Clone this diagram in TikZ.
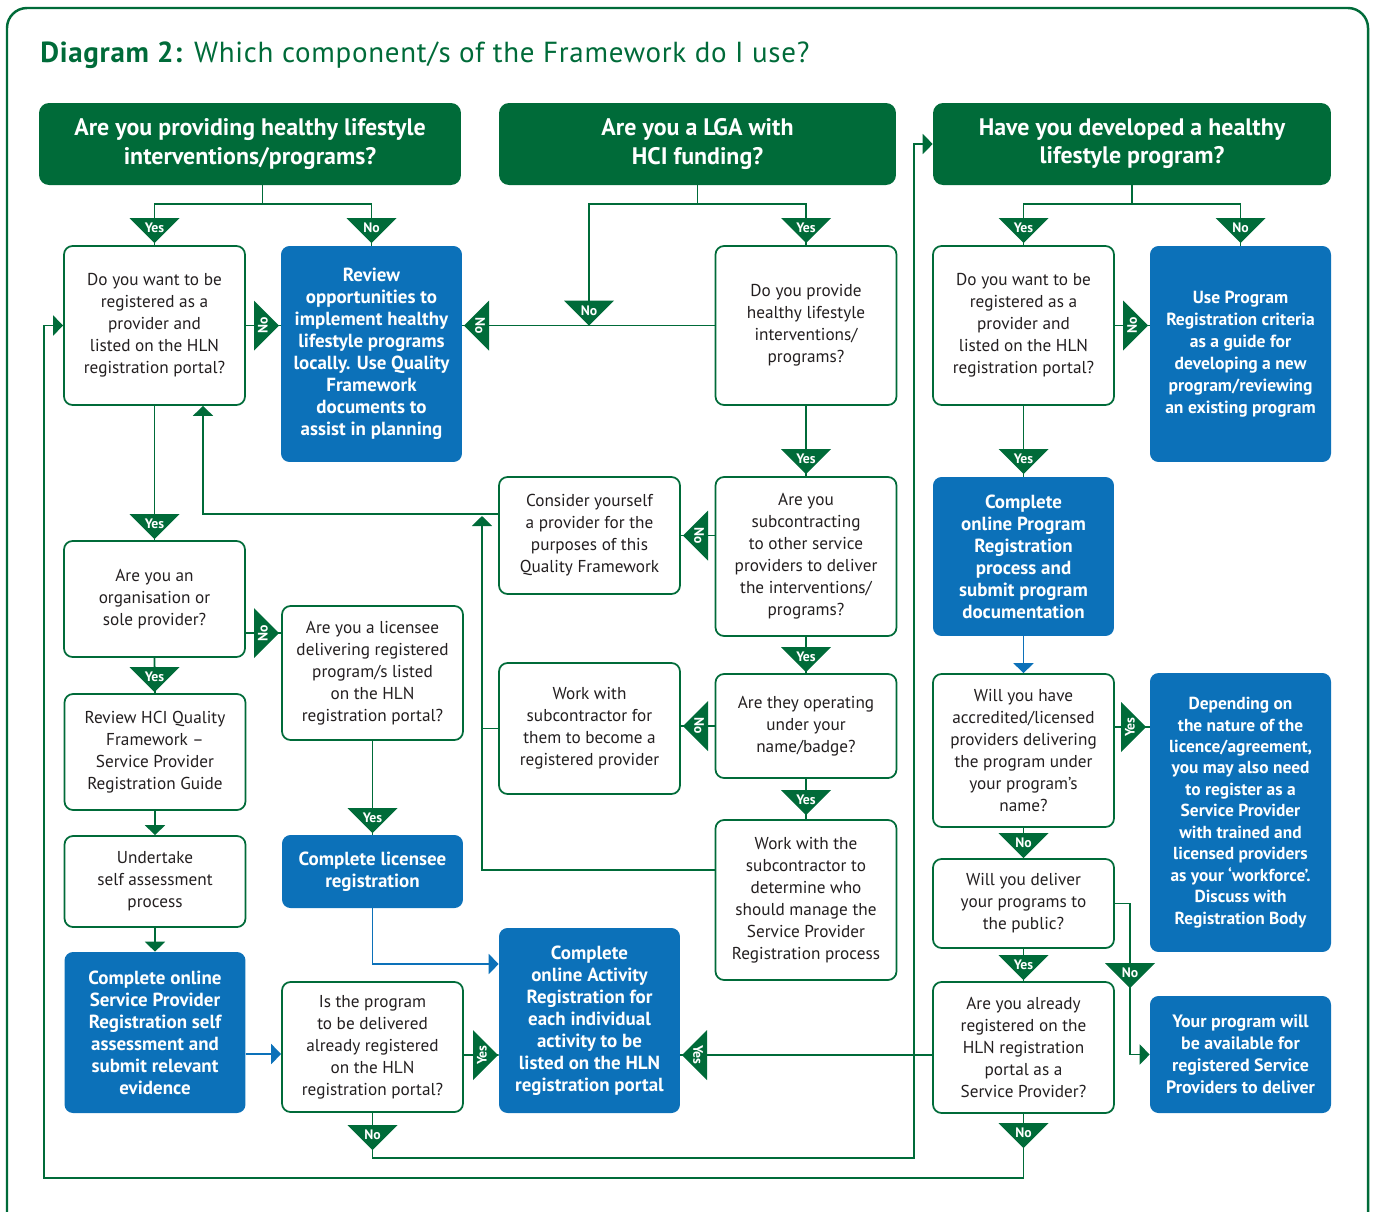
\documentclass[tikz,border=0pt]{standalone}
\usepackage{fontspec}
\setmainfont{PT Sans}
\usetikzlibrary{arrows.meta,calc}
\definecolor{hlngreen}{RGB}{0,107,57}
\definecolor{hlnblue}{RGB}{12,113,185}
\definecolor{hlntext}{RGB}{35,31,32}

% yes/no flags on the connectors
\newcommand{\ynDown}[4]{%
  \fill[hlngreen] (#2-25,#3-25) -- (#2+25,#3-25) -- (#2,#3) -- cycle;
  \node[yntext] at (#2,#3-15) (#1){#4};}
\newcommand{\ynRight}[4]{%
  \fill[hlngreen] (#2-25,#3-25) -- (#2-25,#3+25) -- (#2,#3) -- cycle;
  \node[yntext, rotate=90] at (#2-16,#3) (#1){#4};}
\newcommand{\ynLeft}[4]{%
  \fill[hlngreen] (#2+25,#3-25) -- (#2+25,#3+25) -- (#2,#3) -- cycle;
  \node[yntext, rotate=-90] at (#2+16,#3) (#1){#4};}

\begin{document}
\begin{tikzpicture}[x=0.02cm, y=-0.02cm]
\tikzstyle{head} = [rectangle, rounded corners=0.2cm, fill=hlngreen, text=white, align=center, inner sep=0, minimum height=1.64cm, font=\bfseries\fontsize{13.6}{16}\selectfont]
\tikzstyle{ques} = [rectangle, rounded corners=0.17cm, draw=hlngreen, line width=1pt, fill=white, text=hlntext, align=center, inner sep=0, minimum width=3.62cm, font=\fontsize{9.8}{12.5}\selectfont]
\tikzstyle{todo} = [rectangle, rounded corners=0.17cm, fill=hlnblue, text=white, align=center, inner sep=0, minimum width=3.62cm, font=\bfseries\fontsize{10.8}{12.5}\selectfont]
\tikzstyle{narrow} = [font=\bfseries\fontsize{10}{12.5}\selectfont]
\tikzstyle{yntext} = [text=white, inner sep=0, font=\bfseries\fontsize{7.8}{8}\selectfont]
\tikzstyle{link} = [draw=hlngreen, line width=1pt]
\tikzstyle{linkto} = [link, -{Triangle[width=0.4cm,length=0.2cm]}]
\tikzstyle{bluelink} = [draw=hlnblue, line width=1pt, -{Triangle[width=0.4cm,length=0.2cm]}]

\useasboundingbox (0,0) rectangle (1375,1211);
\draw[hlngreen, line width=1.4pt, rounded corners=0.4cm] (7,8) rectangle (1368,1250);
\node[anchor=base west, text=hlngreen, inner sep=0, font=\fontsize{16.5}{18}\selectfont\addfontfeature{LetterSpace=2.5}] at (40,62) (title){\textbf{Diagram 2:} Which component/s of the Framework do I use?};

% headers
\node[head, minimum width=8.44cm] at (250,144) (h1){Are you providing healthy lifestyle\\interventions/programs?};
\node[head, minimum width=7.94cm] at (697.5,144) (h2){Are you a LGA with\\HCI funding?};
\node[head, minimum width=7.96cm] at (1132,144) (h3){Have you developed a healthy\\lifestyle program?};

% left part
\node[ques, minimum height=3.18cm] at (154.5,325.5) (want1){Do you want to be\\registered as a\\provider and\\listed on the HLN\\registration portal?};
\node[todo, minimum height=4.32cm] at (371.5,354) (rev){Review\\opportunities to\\implement healthy\\lifestyle programs\\locally. Use Quality\\Framework\\documents to\\assist in planning};
\node[ques, minimum height=2.32cm] at (154.5,599) (org){Are you an\\organisation or\\sole provider?};
\node[ques, minimum height=2.68cm] at (372.5,673) (lic){Are you a licensee\\delivering registered\\program/s listed\\on the HLN\\registration portal?};
\node[ques, minimum height=2.32cm] at (155,752) (guide){Review HCI Quality\\Framework –\\Service Provider\\Registration Guide};
\node[ques, minimum height=1.82cm] at (155,881.5) (self){Undertake\\self assessment\\process};
\node[todo, minimum height=3.22cm] at (155,1032.5) (spreg){Complete online\\Service Provider\\Registration self\\assessment and\\submit relevant\\evidence};
\node[todo, minimum height=1.46cm] at (372.5,871.5) (licreg){Complete licensee\\registration};
\node[ques, minimum height=2.6cm] at (372.5,1047) (isprog){Is the program\\to be delivered\\already registered\\on the HLN\\registration portal?};
\node[todo, minimum height=3.7cm] at (589.5,1020.5) (act){Complete\\online Activity\\Registration for\\each individual\\activity to be\\listed on the HLN\\registration portal};

% middle part
\node[ques, minimum height=3.18cm] at (806,325.5) (prov){Do you provide\\healthy lifestyle\\interventions/\\programs?};
\node[ques, minimum height=2.34cm] at (589.5,535.5) (cons){Consider yourself\\a provider for the\\purposes of this\\Quality Framework};
\node[ques, minimum height=3.18cm] at (806,556.5) (sub){Are you\\subcontracting\\to other service\\providers to deliver\\the interventions/\\programs?};
\node[ques, minimum height=2.08cm] at (806,726) (oper){Are they operating\\under your\\name/badge?};
\node[ques, minimum height=2.62cm] at (589.5,728.5) (workreg){Work with\\subcontractor for\\them to become a\\registered provider};
\node[ques, minimum height=3.2cm] at (806,900) (worksub){Work with the\\subcontractor to\\determine who\\should manage the\\Service Provider\\Registration process};

% right part
\node[ques, minimum height=3.18cm] at (1023.5,325.5) (want2){Do you want to be\\registered as a\\provider and\\listed on the HLN\\registration portal?};
\node[todo, narrow, minimum height=4.32cm] at (1240.5,354) (useprog){Use Program\\Registration criteria\\as a guide for\\developing a new\\program/reviewing\\an existing program};
\node[todo, minimum height=3.18cm] at (1023.5,556.5) (progreg){Complete\\online Program\\Registration\\process and\\submit program\\documentation};
\node[ques, minimum height=3.06cm] at (1023.5,750.5) (accr){Will you have\\accredited/licensed\\providers delivering\\the program under\\your program’s\\name?};
\node[todo, narrow, minimum height=5.58cm, font=\bfseries\fontsize{9.9}{12.2}\selectfont] at (1240.5,812.5) (depend){Depending on\\the nature of the\\licence/agreement,\\you may also need\\to register as a\\Service Provider\\with trained and\\licensed providers\\as your ‘workforce’.\\Discuss with\\Registration Body};
\node[ques, minimum height=1.78cm] at (1023.5,903.5) (public){Will you deliver\\your programs to\\the public?};
\node[ques, minimum height=2.62cm] at (1023.5,1047.5) (already){Are you already\\registered on the\\HLN registration\\portal as a\\Service Provider?};
\node[todo, narrow, minimum height=2.34cm, font=\bfseries\fontsize{10.2}{12.5}\selectfont] at (1240.5,1054.5) (avail){Your program will\\be available for\\registered Service\\Providers to deliver};

\coordinate (nojoin) at (589,325.5);
\coordinate (join) at (482,516);
\coordinate (rise) at (914,1158);
\coordinate (loop) at (44,1178);

% connectors
\draw[link] (h1.south) ++(12.5,0) -- ++(0,19) -| (want1.north);
\draw[link] (h1.south) ++(12.5,0) -- ++(0,19) -| (rev.north);
\draw[link] (want1.east) -- (want1.east -| rev.west);
\draw[link] (prov.west) -- (prov.west -| rev.east);
\draw[link] (h2.south) -- ++(0,19) -| (prov.north);
\draw[link] (h2.south) -- ++(0,19) -| (nojoin);
\draw[link] (h3.south) -- ++(0,19) -| (want2.north);
\draw[link] (h3.south) -- ++(0,19) -| (useprog.north);
\draw[link] (want2.east) -- (want2.east -| useprog.west);
\draw[link] (want2.south) -- (progreg.north);
\draw[bluelink] (progreg.south) -- (accr.north);
\draw[link] ($(accr.east)+(0,-23.5)$) -- ($(depend.west)+(0,-85.5)$);
\draw[link] (accr.south) -- (public.north);
\draw[linkto] (public.east) -| ($(avail.west)+(-20,0)$) -- (avail.west);
\draw[link] (public.south) -- (already.north);
\draw[link] ($(already.west)+(0,7.5)$) -- ($(act.east)+(0,34.5)$);
\draw[linkto] (already.south) |- (loop) |- (want1.west);
\draw[link] (prov.south) -- (sub.north);
\draw[link] (sub.west |- cons.east) -- (cons.east);
\draw[link] (sub.south) -- (oper.north);
\draw[link] (oper.west) -- (oper.west -| workreg.east);
\draw[link] (oper.south) -- (worksub.north);
\draw[linkto] ($(cons.west)+(0,-21.5)$) -| ($(want1.south)+(48.5,0)$);
\draw[link] (workreg.west) -- (workreg.west -| join);
\draw[linkto] ($(worksub.west)+(0,-30)$) -| (join);
\draw[link] (want1.south) -- (org.north);
\draw[link] ($(org.east)+(0,34)$) -- ($(lic.west)+(0,-40)$);
\draw[link] (org.south) -- (guide.north);
\draw[linkto] (guide.south) -- (self.north);
\draw[linkto] (self.south) -- (spreg.north);
\draw[bluelink] ($(spreg.east)+(0,21.5)$) -- ($(isprog.west)+(0,7)$);
\draw[link] (lic.south) -- (licreg.north);
\draw[bluelink] (licreg.south) |- ($(act.west)+(0,-56.5)$);
\draw[link] ($(isprog.east)+(0,8)$) -- ($(act.west)+(0,34.5)$);
\draw[linkto] (isprog.south) |- (rise) |- (h3.west);

% flags
\ynDown{ynA}{154.5}{243}{Yes}
\ynDown{ynB}{371.5}{243}{No}
\ynDown{ynC}{806}{243}{Yes}
\ynDown{ynD}{589}{325.5}{No}
\ynDown{ynE}{1023.5}{243}{Yes}
\ynDown{ynF}{1240.5}{243}{No}
\ynRight{ynG}{279}{325.5}{No}
\ynLeft{ynH}{464}{325.5}{No}
\ynRight{ynI}{1148}{325.5}{No}
\ynDown{ynJ}{806}{474}{Yes}
\ynDown{ynK}{1023.5}{474}{Yes}
\ynDown{ynL}{154.5}{539}{Yes}
\ynLeft{ynM}{683}{535.5}{No}
\ynRight{ynN}{279}{633}{No}
\ynDown{ynO}{806}{672}{Yes}
\ynDown{ynP}{154.5}{692}{Yes}
\ynLeft{ynQ}{683}{726}{No}
\ynRight{ynR}{1146}{727}{Yes}
\ynDown{ynS}{806}{815}{Yes}
\ynDown{ynT}{372.5}{833}{Yes}
\ynDown{ynU}{1023.5}{858}{No}
\ynDown{ynV}{1023.5}{980}{Yes}
\ynDown{ynW}{1130}{988}{No}
\ynRight{ynX}{498}{1055}{Yes}
\ynLeft{ynY}{682}{1055}{Yes}
\ynDown{ynZ}{372.5}{1150}{No}
\ynDown{ynZZ}{1023.5}{1148}{No}
\end{tikzpicture}
\end{document}
